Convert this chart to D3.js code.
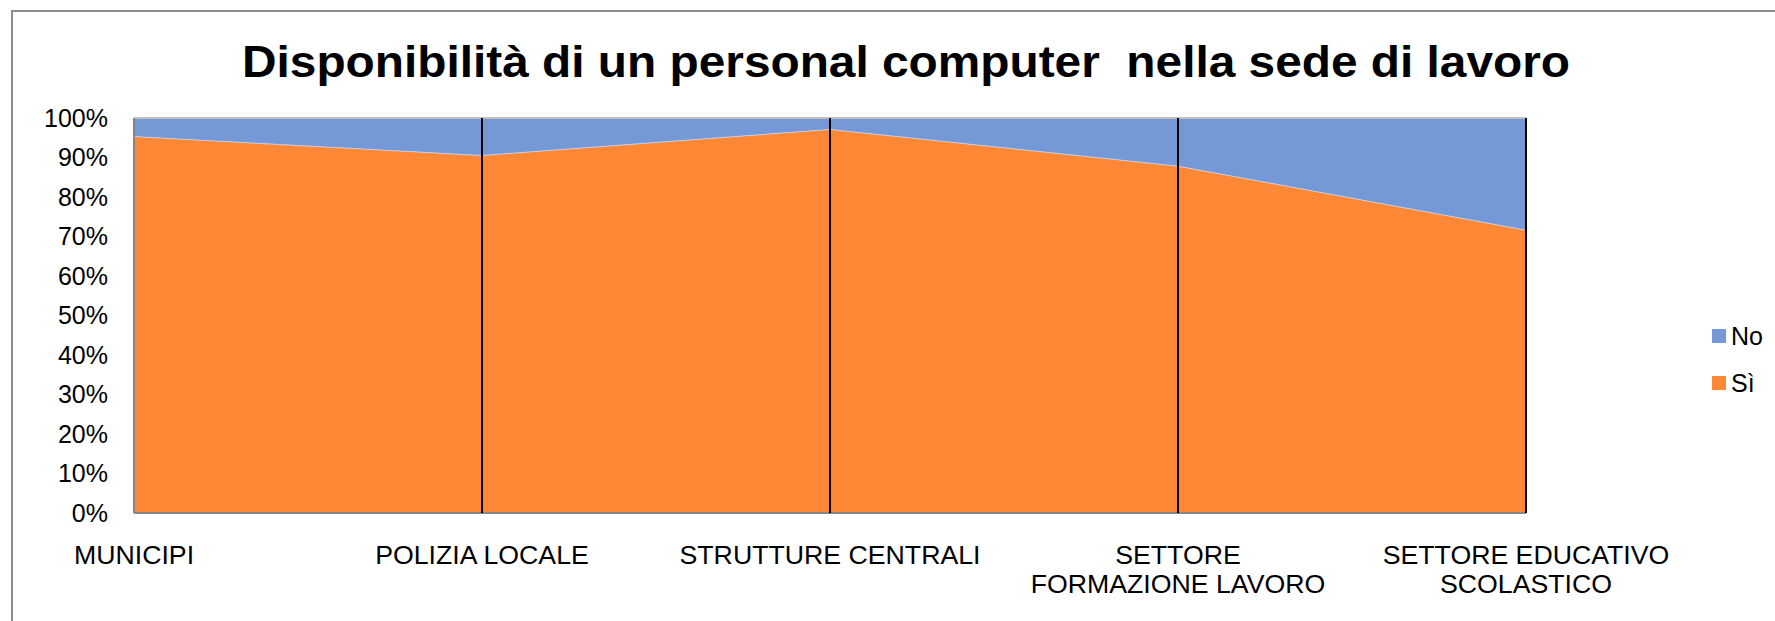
<!DOCTYPE html>
<html>
<head>
<meta charset="utf-8">
<script src="https://cdn.jsdelivr.net/npm/d3@7"></script>
<style>
  html, body { margin: 0; padding: 0; background: #fff; }
  svg { display: block; font-family: "Liberation Sans", Arial, sans-serif; }
</style>
</head>
<body>
<div id="chart"></div>
<script>
// Stacked 100% area: share of staff with a PC at their workplace, by sector.
const categories = [
  ['MUNICIPI'],
  ['POLIZIA LOCALE'],
  ['STRUTTURE CENTRALI'],
  ['SETTORE', 'FORMAZIONE LAVORO'],
  ['SETTORE EDUCATIVO', 'SCOLASTICO'],
];
const si = [95.3, 90.5, 97.1, 87.8, 71.6];
const no = [4.7, 9.5, 2.9, 12.2, 28.4];
const seriesNames = ['Sì', 'No'];
const yTicks = [0, 10, 20, 30, 40, 50, 60, 70, 80, 90, 100];

const W = 1775, H = 621;
const margin = { top: 118, right: 249, bottom: 108, left: 134 };
const innerW = W - margin.left - margin.right;
const innerH = H - margin.top - margin.bottom;

const COLORS = { 'Sì': '#ff8837', 'No': '#7598d6' };

const svg = d3.select('#chart').append('svg')
  .attr('width', W).attr('height', H);

// outer chart frame (runs off the right edge)
svg.append('path')
  .attr('d', `M12,${H} V11 H${W}`)
  .style('fill', 'none').style('stroke', '#8c8c8c').attr('stroke-width', 2);

svg.append('text')
  .attr('x', 906).attr('y', 77).attr('text-anchor', 'middle')
  .attr('textLength', 1328).attr('lengthAdjust', 'spacingAndGlyphs')
  .style('font-size', '45px').style('font-weight', 700).style('fill', '#000')
  .attr('xml:space', 'preserve')
  .text('Disponibilità di un personal computer  nella sede di lavoro');

const g = svg.append('g').attr('transform', `translate(${margin.left},${margin.top})`);

const idx = d3.range(categories.length);
const x = d3.scalePoint().domain(idx).range([0, innerW]);
const y = d3.scaleLinear().domain([0, 100]).range([innerH, 0]);

const rows = idx.map((i) => ({ i, 'Sì': si[i], 'No': no[i] }));
const stacked = d3.stack().keys(seriesNames)(rows);

const area = d3.area()
  .x((d) => x(d.data.i))
  .y0((d) => y(d[0]))
  .y1((d) => y(d[1]));

g.append('g').selectAll('path').data(stacked).join('path')
  .attr('d', area)
  .style('fill', (s) => COLORS[s.key]);

// faint seam between the two series
g.append('path')
  .datum(stacked[0])
  .attr('d', d3.line().x((d) => x(d.data.i)).y((d) => y(d[1])))
  .style('fill', 'none').style('stroke', '#c9cde0').attr('stroke-width', 1);

// plot border
g.append('line').attr('x1', 0).attr('x2', innerW).attr('y1', 0).attr('y2', 0)
  .style('stroke', '#c0c0c0').attr('stroke-width', 2);
g.append('line').attr('x1', 0).attr('x2', innerW).attr('y1', innerH).attr('y2', innerH)
  .style('stroke', '#868686').attr('stroke-width', 2);
g.append('line').attr('x1', 0).attr('x2', 0).attr('y1', 0).attr('y2', innerH)
  .style('stroke', '#868686').attr('stroke-width', 2);

// drop lines
g.append('g').selectAll('line').data(idx.slice(1)).join('line')
  .attr('x1', (i) => x(i)).attr('x2', (i) => x(i))
  .attr('y1', 0).attr('y2', innerH)
  .style('stroke', '#000').attr('stroke-width', 2);

// y axis labels
g.append('g').selectAll('text').data(yTicks).join('text')
  .attr('x', -26).attr('y', (d) => y(d)).attr('dy', '0.35em')
  .attr('text-anchor', 'end')
  .style('font-size', '25px').style('fill', '#000')
  .text((d) => `${d}%`);

// category labels
const cat = g.append('g').selectAll('text').data(idx).join('text')
  .attr('text-anchor', 'middle')
  .style('font-size', '26.7px').style('fill', '#000');
cat.selectAll('tspan').data((i) => categories[i].map((t) => ({ t, i }))).join('tspan')
  .attr('x', (d) => x(d.i))
  .attr('y', (d, k) => innerH + 51 + k * 29)
  .text((d) => d.t);

// legend
const legend = svg.append('g').attr('transform', 'translate(1712,0)');
const legendItems = ['No', 'Sì'];
legend.selectAll('rect').data(legendItems).join('rect')
  .attr('x', 0).attr('y', (d, k) => 329 + k * 47)
  .attr('width', 14).attr('height', 14)
  .style('fill', (d) => COLORS[d]);
legend.selectAll('text').data(legendItems).join('text')
  .attr('x', 19).attr('y', (d, k) => 336 + k * 47).attr('dy', '0.35em')
  .style('font-size', '25px').style('fill', '#000')
  .text((d) => d);
</script>
</body>
</html>
